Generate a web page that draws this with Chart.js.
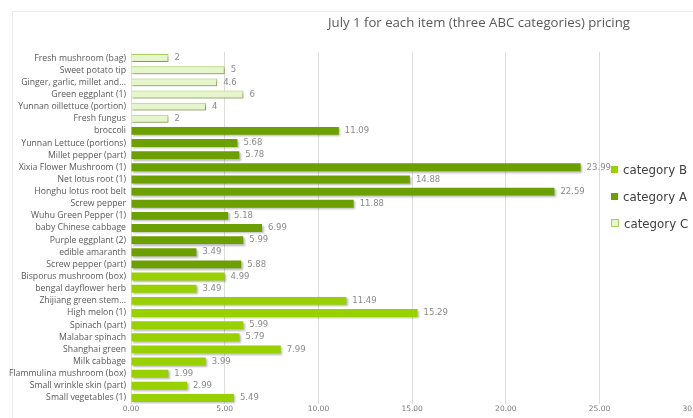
<!DOCTYPE html>
<html>
<head>
<meta charset="utf-8">
<script src="https://cdn.jsdelivr.net/npm/chart.js@4.4.1/dist/chart.umd.min.js"></script>
<style>
html,body{margin:0;padding:0;background:#fff;overflow:hidden;width:693px;height:418px;}
#wrap{position:absolute;left:0;top:0;width:705px;height:418px;}
#frame{position:absolute;left:12px;top:11px;width:700px;height:420px;border:1px solid #ececec;}
#title{position:absolute;left:328px;top:13px;font-family:"Open Sans",sans-serif;font-size:13.2px;color:#595959;white-space:nowrap;}
#legend{position:absolute;left:611px;top:162px;font-family:"DejaVu Sans",sans-serif;font-size:11.8px;color:#404040;}
#legend div{height:27px;line-height:16px;white-space:nowrap;}
#legend span{display:inline-block;width:7px;height:7px;margin-right:5px;vertical-align:1px;}
</style>
</head>
<body>
<div id="frame"></div>
<div id="wrap"><canvas id="c" width="705" height="418"></canvas></div>
<div id="title">July 1 for each item (three ABC categories) pricing</div>
<div id="legend">
<div><span style="background:#99d000"></span>category B</div>
<div><span style="background:#6c9f00"></span>category A</div>
<div><span style="background:#e6f5cc;border:1px solid #a8d060;width:6px;height:6px"></span>category C</div>
</div>
<script>
const categories = [
 "Fresh mushroom (bag)","Sweet potato tip","Ginger, garlic, millet and...","Green eggplant (1)","Yunnan oillettuce (portion)","Fresh fungus",
 "broccoli","Yunnan Lettuce (portions)","Millet pepper (part)","Xixia Flower Mushroom (1)","Net lotus root (1)","Honghu lotus root belt","Screw pepper","Wuhu Green Pepper (1)","baby Chinese cabbage","Purple eggplant (2)","edible amaranth","Screw pepper (part)",
 "Bisporus mushroom (box)","bengal dayflower herb","Zhijiang green stem...","High melon (1)","Spinach (part)","Malabar spinach","Shanghai green","Milk cabbage","Flammulina mushroom (box)","Small wrinkle skin (part)","Small vegetables (1)"
];
const categoryB = [null,null,null,null,null,null, null,null,null,null,null,null,null,null,null,null,null,null, 4.99,3.49,11.49,15.29,5.99,5.79,7.99,3.99,1.99,2.99,5.49];
const categoryA = [null,null,null,null,null,null, 11.09,5.68,5.78,23.99,14.88,22.59,11.88,5.18,6.99,5.99,3.49,5.88, null,null,null,null,null,null,null,null,null,null,null];
const categoryC = [2,5,4.6,6,4,2, null,null,null,null,null,null,null,null,null,null,null,null, null,null,null,null,null,null,null,null,null,null,null];
const xTicks = [0,5,10,15,20,25,30];

const shadowPlugin = {
  id:'shadow',
  beforeDatasetsDraw(chart){const c=chart.ctx;c.save();c.shadowColor='rgba(0,0,0,0.28)';c.shadowOffsetX=1.5;c.shadowOffsetY=1.5;c.shadowBlur=2;},
  afterDatasetsDraw(chart){chart.ctx.restore();}
};
const labelPlugin = {
  id:'vlabels',
  afterDatasetsDraw(chart){
    const c=chart.ctx;c.save();
    c.font='8.5px "DejaVu Sans", sans-serif';c.fillStyle='#8a8a8a';c.textBaseline='middle';c.textAlign='left';
    chart.data.datasets.forEach((ds,i)=>{
      const meta=chart.getDatasetMeta(i);
      meta.data.forEach((el,j)=>{
        const v=ds.data[j]; if(v===null||v===undefined) return;
        c.fillText(String(v), el.x+6, el.y);
      });
    });
    c.restore();
  }
};

new Chart(document.getElementById('c'),{
  type:'bar',
  data:{labels:categories,datasets:[
    {label:'category B',data:categoryB,backgroundColor:'#99d000',borderWidth:0},
    {label:'category A',data:categoryA,backgroundColor:'#6c9f00',borderWidth:0},
    {label:'category C',data:categoryC,backgroundColor:'#e6f5cc',borderColor:'#a8d060',borderWidth:1}
  ]},
  options:{
    indexAxis:'y',responsive:false,animation:false,
    layout:{padding:{top:52,left:0,right:0,bottom:0}},
    plugins:{legend:{display:false},title:{display:false},tooltip:{enabled:false}},
    datasets:{bar:{barPercentage:0.65,categoryPercentage:1}},
    scales:{
      y:{stacked:true,grid:{display:false,drawTicks:false},border:{display:false},
        ticks:{autoSkip:false,font:{family:'"Open Sans", sans-serif',size:8.7},color:'#595959',padding:5},
        afterFit(s){s.width=131;}},
      x:{stacked:true,min:0,max:30,grid:{color:'#dcdcdc',drawTicks:false},border:{display:false},
        afterBuildTicks(s){s.ticks=xTicks.map(v=>({value:v}));},
        ticks:{font:{family:'"DejaVu Sans", sans-serif',size:7.5},color:'#7a7a7a',padding:1,maxRotation:0,
          callback:v=>Number(v).toFixed(2)},
        afterFit(s){s.height=14;}}
    }
  },
  plugins:[shadowPlugin,labelPlugin]
});
</script>
</body>
</html>
